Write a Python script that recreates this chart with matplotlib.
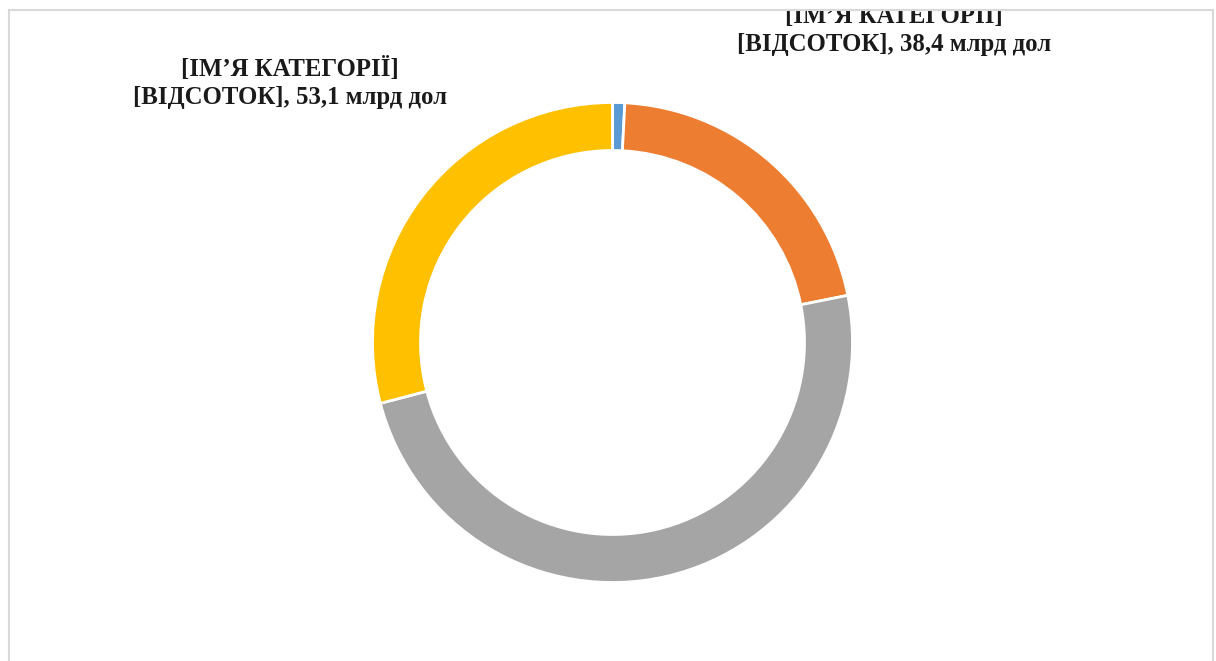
import matplotlib.pyplot as plt
import matplotlib.patches as mpatches

# Donut chart: shares in bn USD (blue, orange, grey, yellow, clockwise from top)
categories = ["Blue", "Orange", "Grey", "Yellow"]
values = [1.5, 38.4, 89.6, 53.1]
colors = ["#5b9bd5", "#ed7d31", "#a5a5a5", "#ffc000"]

labelLeft = "[ІМ’Я КАТЕГОРІЇ]\n[ВІДСОТОК], 53,1 млрд дол"
labelRight = "[ІМ’Я КАТЕГОРІЇ]\n[ВІДСОТОК], 38,4 млрд дол"

W, H = 1216, 661
fig = plt.figure(figsize=(W / 100, H / 100), dpi=100)

# pie axes, centre (612.5, 342.5) px, outer radius 240 px
cx, cy, r = 612.5, 342.5, 240
ax = fig.add_axes([(cx - r) / W, (H - cy - r) / H, 2 * r / W, 2 * r / H])
ax.pie(values, colors=colors, startangle=90, counterclock=False, radius=1,
       wedgeprops=dict(width=0.2, edgecolor="white", linewidth=2))
ax.set_xlim(-1, 1)
ax.set_ylim(-1, 1)
ax.set_aspect("equal")
ax.axis("off")

font = dict(family="Liberation Serif", fontweight="bold", fontsize=17.8,
            ha="center", va="center", linespacing=1.25, color="#1a1a1a")
fig.text(290 / W, 1 - 83 / H, labelLeft, **font)
fig.text(894 / W, 1 - 30 / H, labelRight, **font)

# white strip above the chart frame hides the clipped top of the label
fig.patches.append(mpatches.Rectangle((0, 1 - 9 / H), 1, 9 / H, transform=fig.transFigure,
                                      facecolor="white", edgecolor="none", zorder=5))
fig.patches.append(mpatches.Rectangle((8.5 / W, -0.01), (1213 - 8.5) / W, 1.01 - 9.5 / H,
                                      transform=fig.transFigure, facecolor="none",
                                      edgecolor="#d9d9d9", linewidth=1.5, zorder=6))

fig.savefig("out.png", dpi=100, facecolor="white")
